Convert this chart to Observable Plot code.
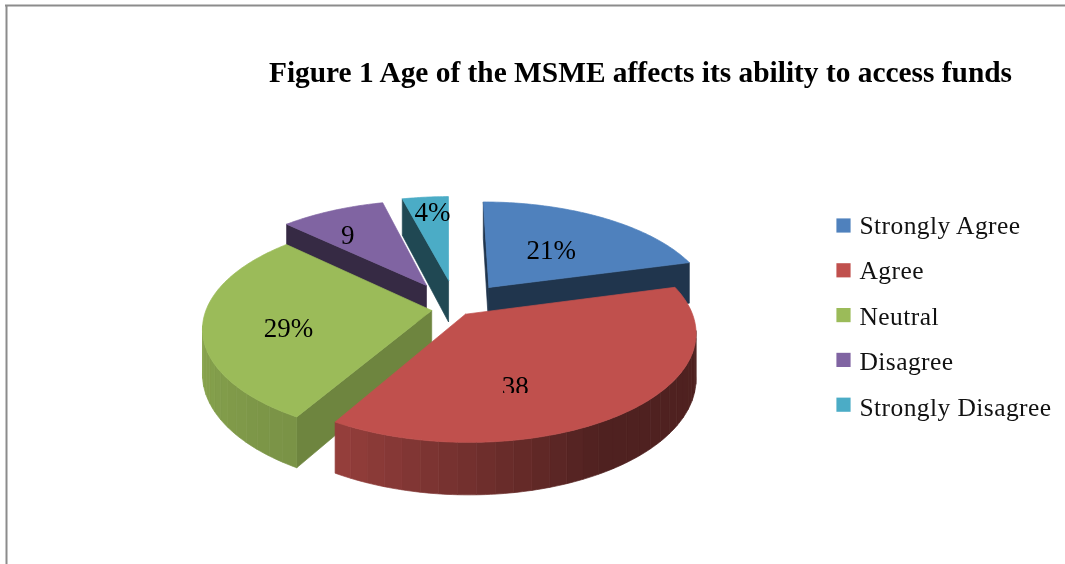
<!DOCTYPE html>
<html>
<head>
<meta charset="utf-8">
<script src="https://cdn.jsdelivr.net/npm/d3@7"></script>
<script src="https://cdn.jsdelivr.net/npm/@observablehq/plot@0.6"></script>
<style>
html,body{margin:0;padding:0;background:#fff;overflow:hidden}
svg{display:block;filter:blur(.35px)}
</style>
</head>
<body>
<div id="chart"></div>
<script>
const title = "Figure 1 Age of the MSME affects its ability to access funds";
const categories = ["Strongly Agree","Agree","Neutral","Disagree","Strongly Disagree"];
const values = [21,38,29,9,4];
const labels = ["21%","38","29%","9","4%"];
const colors = ["#4f81bd","#c0504d","#9bbb59","#8064a2","#4bacc6"];

// perspective of the pie plane
const view = {x0:447, y0:299, a:222, b:102.6, k:0.159, depth:43};
// how far each slice is pulled out of the pie, in plane units
const explode = [[.19,-.12],[.079,.14],[-.07,.105],[-.097,-.14],[.005,-.193]];
const labelNudge = [[-1,2],[-30,24],[-23,10],[-26,-8],[-3,-21]];
const paintOrder = [4,3,0,2,1];

const total = d3.sum(values);
const ends = d3.cumsum(values).map(v => v/total*360);
const starts = ends.map((e,i) => e - values[i]/total*360);
const rad = d => d*Math.PI/180;
const project = (u,v,lift=0) => {
  const f = 1/(1 - view.k*v);
  return {x:view.x0 + view.a*u*f, y:view.y0 + view.b*v*f + lift*f};
};
const onPlane = (i,deg,r=1) => [explode[i][0] + r*Math.sin(rad(deg)), explode[i][1] - r*Math.cos(rad(deg))];
const shadeOf = d3.scaleLinear([150,210,270,300],[.41,.78,.9,.42]).clamp(true);
const tint = (c,f) => { const q = d3.rgb(c); return d3.rgb(q.r*f,q.g*f,q.b*f).formatHex(); };

const polys = [];
let pid = 0;
const addPoly = (pts,color) => { const id = pid++; [...pts,pts[0]].forEach(p => polys.push({id,x:p.x,y:p.y,color})); };

paintOrder.forEach(i => {
  const s0 = starts[i], s1 = ends[i];
  const n = Math.ceil((s1-s0)/4);
  const arc = d3.range(n+1).map(j => s0 + (s1-s0)*j/n);
  const fine = d3.range(4*n+1).map(j => s0 + (s1-s0)*j/(4*n));
  const apex = project(...explode[i]);
  const apexLow = project(...explode[i],view.depth);
  const mid = project(...onPlane(i,(s0+s1)/2));
  // radial walls that face the viewer
  [s0,s1].forEach(a => {
    const q = project(...onPlane(i,a));
    const side = (q.x-apex.x)*(mid.y-apex.y) - (q.y-apex.y)*(mid.x-apex.x);
    const down = (q.x-apex.x);
    if (side*down < 0) {
      addPoly([apex,q,project(...onPlane(i,a),view.depth),apexLow], tint(colors[i],Math.min(shadeOf(a),.71)));
    }
  });
  // outer wall, in bands of one shade each
  d3.pairs(arc).forEach(([a,b]) => {
    const inner = d3.range(5).map(j => a + (b-a)*j/4);
    const tops = inner.map(t => project(...onPlane(i,t)));
    if (tops[4].x < tops[0].x) {
      const lows = inner.map(t => project(...onPlane(i,t),view.depth)).reverse();
      addPoly([...tops,...lows], tint(colors[i],shadeOf((a+b)/2)));
    }
  });
  // top
  addPoly([apex,...fine.map(a => project(...onPlane(i,a)))], colors[i]);
});

const sliceLabels = labels.map((t,i) => {
  const c = project(...onPlane(i,(starts[i]+ends[i])/2,.53));
  return {t,x:c.x+labelNudge[i][0],y:c.y+labelNudge[i][1]};
});
const legendRows = categories.map((name,i) => ({name,color:colors[i],i}));
const keyY = d => 225 + d.i*44.8;
const nameY = d => 225 + d.i*45.5;

const chart = Plot.plot({
  width:1065, height:564, margin:0,
  x:{domain:[0,1065],range:[0,1065],axis:null},
  y:{domain:[0,564],range:[0,564],axis:null},
  color:{type:"identity"},
  style:{background:"#fff"},
  marks:[
    Plot.ruleY([5],{x1:5,x2:1065,stroke:"#8c8c8c",strokeWidth:2}),
    Plot.ruleX([6],{y1:5,y2:564,stroke:"#8c8c8c",strokeWidth:2}),
    Plot.line(polys,{x:"x",y:"y",z:"id",fill:"color",stroke:"color",strokeWidth:.7}),
    Plot.text(sliceLabels,{x:"x",y:"y",text:"t",fontSize:27,fontFamily:"Liberation Serif",fill:"#000"}),
    Plot.rect([0],{x1:()=>498,x2:()=>534,y1:()=>393,y2:()=>400,fill:colors[1]}),
    Plot.dot(legendRows,{x:()=>843,y:keyY,symbol:"square",r:8,fill:"color"}),
    Plot.text(legendRows,{x:()=>859,y:nameY,text:"name",textAnchor:"start",fontSize:25.5,fontFamily:"Liberation Serif",fill:"#111"}),
    Plot.text([title],{x:()=>640,y:()=>72,text:d=>d,fontSize:29.4,fontWeight:"bold",fontFamily:"Liberation Serif",fill:"#000"})
  ]
});
chart.querySelectorAll("text").forEach(t => {
  if (categories.includes(t.textContent)) t.style.letterSpacing = "0.42px";
});
document.getElementById("chart").append(chart);
</script>
</body>
</html>
